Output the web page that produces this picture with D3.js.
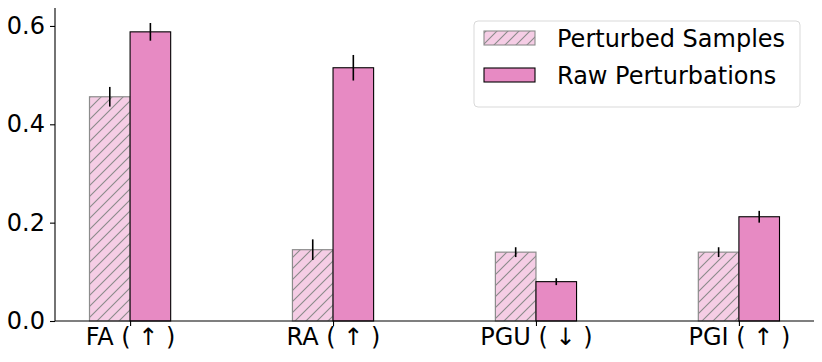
<!DOCTYPE html>
<html>
<head>
<meta charset="utf-8">
<script src="https://cdn.jsdelivr.net/npm/d3@7"></script>
<style>
  body { margin: 0; background: #fff; }
  svg { font-family: "DejaVu Sans", sans-serif; }
</style>
</head>
<body>
<svg id="chart" width="822" height="362"></svg>
<script>
// data
const categories = ["FA ( ↑ )", "RA ( ↑ )", "PGU ( ↓ )", "PGI ( ↑ )"];
const seriesNames = ["Perturbed Samples", "Raw Perturbations"];
const sampleVals = [0.456, 0.145, 0.140, 0.140];
const sampleErr  = [0.020, 0.021, 0.010, 0.010];
const rawVals    = [0.588, 0.515, 0.080, 0.212];
const rawErr     = [0.018, 0.026, 0.007, 0.012];
const yTicks = [0.0, 0.2, 0.4, 0.6];

const pink = "#e78ac3";
const lightPink = "#f5cde5";

const svg = d3.select("#chart");
const margin = {left: 55, right: 8, top: 8, bottom: 41};
const W = 822, H = 362;

const x = d3.scaleLinear().domain([-0.37, 3.37]).range([margin.left, W - margin.right]);
const y = d3.scaleLinear().domain([0, 0.6365]).range([H - margin.bottom, margin.top]);
const barW = 0.2;

// hatch pattern
const defs = svg.append("defs");
const pat = defs.append("pattern")
    .attr("id", "hatch")
    .attr("patternUnits", "userSpaceOnUse")
    .attr("width", 11).attr("height", 11);
pat.append("rect").attr("width", 11).attr("height", 11).attr("fill", lightPink);
pat.append("path")
    .attr("d", "M-1,12 L12,-1 M-3,3 L3,-3 M8,14 L14,8")
    .attr("stroke", "#8a8a8a").attr("stroke-width", 1.1);

const rows = categories.map((c, i) => ({
    i, c,
    s: sampleVals[i], se: sampleErr[i],
    r: rawVals[i], re: rawErr[i]
}));

const g = svg.append("g");

// hatched bars
g.selectAll("rect.samp").data(rows).join("rect")
    .attr("class", "samp")
    .attr("x", d => x(d.i - barW))
    .attr("y", d => y(d.s))
    .attr("width", d => x(d.i) - x(d.i - barW))
    .attr("height", d => y(0) - y(d.s))
    .attr("fill", "url(#hatch)")
    .attr("stroke", "#8c8c8c").attr("stroke-width", 1.2);

// solid bars
g.selectAll("rect.raw").data(rows).join("rect")
    .attr("class", "raw")
    .attr("x", d => x(d.i))
    .attr("y", d => y(d.r))
    .attr("width", d => x(d.i + barW) - x(d.i))
    .attr("height", d => y(0) - y(d.r))
    .attr("fill", pink)
    .attr("stroke", "#000").attr("stroke-width", 1.1);

// error bars
g.selectAll("line.es").data(rows).join("line")
    .attr("x1", d => x(d.i - barW / 2)).attr("x2", d => x(d.i - barW / 2))
    .attr("y1", d => y(d.s - d.se)).attr("y2", d => y(d.s + d.se))
    .attr("stroke", "#000").attr("stroke-width", 1.6);
g.selectAll("line.er").data(rows).join("line")
    .attr("x1", d => x(d.i + barW / 2)).attr("x2", d => x(d.i + barW / 2))
    .attr("y1", d => y(d.r - d.re)).attr("y2", d => y(d.r + d.re))
    .attr("stroke", "#000").attr("stroke-width", 1.6);

// axes
const yAxis = svg.append("g")
    .attr("transform", `translate(${margin.left},0)`)
    .call(d3.axisLeft(y).tickValues(yTicks).tickFormat(d3.format(".1f")).tickSize(5).tickPadding(5));
const xAxis = svg.append("g")
    .attr("transform", `translate(0,${y(0)})`)
    .call(d3.axisBottom(x).tickValues([0, 1, 2, 3]).tickFormat(i => categories[i]).tickSize(5).tickPadding(2));

[yAxis, xAxis].forEach(a => {
    a.select(".domain").attr("stroke", "#000").attr("stroke-width", 1.1);
    a.selectAll(".tick line").attr("stroke", "#000").attr("stroke-width", 1.1);
    a.selectAll("text").attr("fill", "#000").style("font-size", "24px")
        .style("font-family", "'DejaVu Sans', sans-serif");
});
// keep the spines plain (no outer tick caps)
yAxis.select(".domain").attr("d", `M0,${y(0)}V${margin.top}`);
xAxis.select(".domain").attr("d", `M${margin.left},0H${W - margin.right}`);

// legend
const lg = svg.append("g").attr("transform", "translate(474,21)");
lg.append("rect").attr("width", 326).attr("height", 86).attr("rx", 4)
    .attr("fill", "#fff").attr("fill-opacity", 0.8)
    .attr("stroke", "#d9d9d9").attr("stroke-width", 1);
const items = [
    {name: seriesNames[0], fill: "url(#hatch)", stroke: "#8c8c8c"},
    {name: seriesNames[1], fill: pink, stroke: "#000"}
];
items.forEach((it, k) => {
    const yy = 10 + k * 37;
    lg.append("rect").attr("x", 10).attr("y", yy).attr("width", 51).attr("height", 14)
        .attr("fill", it.fill).attr("stroke", it.stroke).attr("stroke-width", 1.1);
    lg.append("text").attr("x", 83).attr("y", yy + 16)
        .style("font-size", "24px").attr("fill", "#000").text(it.name);
});
</script>
</body>
</html>
